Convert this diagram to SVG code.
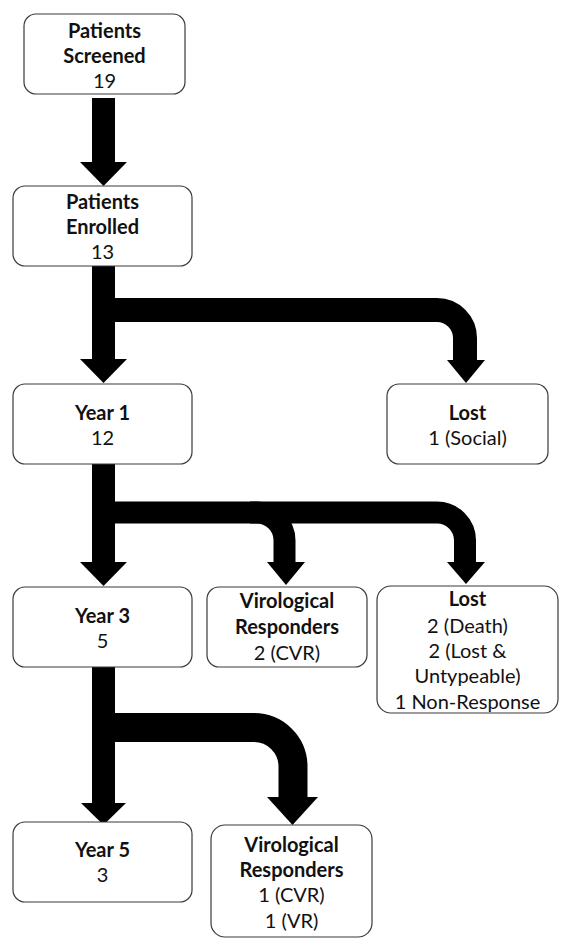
<svg xmlns="http://www.w3.org/2000/svg" width="561" height="946" viewBox="0 0 561 946">
<style>
.box{fill:#fff;stroke:#3a3a3a;stroke-width:1.2}
text{font-family:Lato,"Liberation Sans",sans-serif;font-size:20px;fill:#111;text-anchor:middle}
.b{font-weight:bold}
.sh{fill:none;stroke:#000;stroke-linecap:butt;stroke-linejoin:round}
.hd{fill:#000}
</style>
<rect width="561" height="946" fill="#fff"/>
<g id="connectors">
  <path class="sh" d="M103.5 98 V164" stroke-width="23"/>
  <polygon class="hd" points="80,162 127,162 103.5,186"/>
  <path class="sh" d="M103.5 266 V361" stroke-width="23"/>
  <polygon class="hd" points="80,359 127,359 103.5,383"/>
  <path class="sh" d="M104 310 H437 A28 28 0 0 1 465 338 V362" stroke-width="24"/>
  <polygon class="hd" points="447,360 485,360 466,383"/>
  <path class="sh" d="M103.5 464 V564" stroke-width="23"/>
  <polygon class="hd" points="80,562 127,562 103.5,586"/>
  <path class="sh" d="M104 512.5 H437 A28 28 0 0 1 465 540.5 V564" stroke-width="22"/>
  <polygon class="hd" points="447,562 485,562 466,584"/>
  <path class="sh" d="M250 512.5 H256 A28 28 0 0 1 284.5 540.5 V564" stroke-width="22"/>
  <polygon class="hd" points="267,562 305,562 286,585"/>
  <path class="sh" d="M103.5 667 V805" stroke-width="23"/>
  <polygon class="hd" points="81,803 126,803 103.5,825"/>
  <path class="sh" d="M104 727.5 H254 A39 39 0 0 1 293 766.5 V799" stroke-width="29"/>
  <polygon class="hd" points="267,797 318,797 292.5,825"/>
</g>
<g id="screened">
  <rect class="box" x="24" y="14" width="161" height="80" rx="12"/>
  <text class="b" x="104.5" y="38">Patients</text>
  <text class="b" x="104.5" y="63">Screened</text>
  <text x="104.5" y="88">19</text>
</g>
<g id="enrolled">
  <rect class="box" x="13" y="186" width="179" height="80" rx="12"/>
  <text class="b" x="102.5" y="209">Patients</text>
  <text class="b" x="102.5" y="234">Enrolled</text>
  <text x="102.5" y="259">13</text>
</g>
<g id="year1">
  <rect class="box" x="13" y="384" width="179" height="80" rx="12"/>
  <text class="b" x="102.5" y="420">Year 1</text>
  <text x="102.5" y="445">12</text>
</g>
<g id="lost1">
  <rect class="box" x="387" y="384" width="161" height="80" rx="12"/>
  <text class="b" x="467.5" y="420">Lost</text>
  <text x="467.5" y="445">1 (Social)</text>
</g>
<g id="year3">
  <rect class="box" x="13" y="587" width="179" height="80" rx="12"/>
  <text class="b" x="102.5" y="623">Year 3</text>
  <text x="102.5" y="648">5</text>
</g>
<g id="vr1">
  <rect class="box" x="207" y="587" width="160" height="80" rx="12"/>
  <text class="b" x="287" y="608">Virological</text>
  <text class="b" x="287" y="634">Responders</text>
  <text x="287" y="660">2 (CVR)</text>
</g>
<g id="lost2">
  <rect class="box" x="377" y="586" width="181" height="127" rx="14"/>
  <text class="b" x="467.5" y="606">Lost</text>
  <text x="467.5" y="633">2 (Death)</text>
  <text x="467.5" y="658">2 (Lost &amp;</text>
  <text x="467.5" y="683">Untypeable)</text>
  <text x="467.5" y="709">1 Non-Response</text>
</g>
<g id="year5">
  <rect class="box" x="13" y="822" width="179" height="80" rx="12"/>
  <text class="b" x="102.5" y="857">Year 5</text>
  <text x="102.5" y="882">3</text>
</g>
<g id="vr2">
  <rect class="box" x="211" y="825" width="161" height="112" rx="14"/>
  <text class="b" x="291.5" y="852">Virological</text>
  <text class="b" x="291.5" y="877">Responders</text>
  <text x="291.5" y="902">1 (CVR)</text>
  <text x="291.5" y="928">1 (VR)</text>
</g>
</svg>
